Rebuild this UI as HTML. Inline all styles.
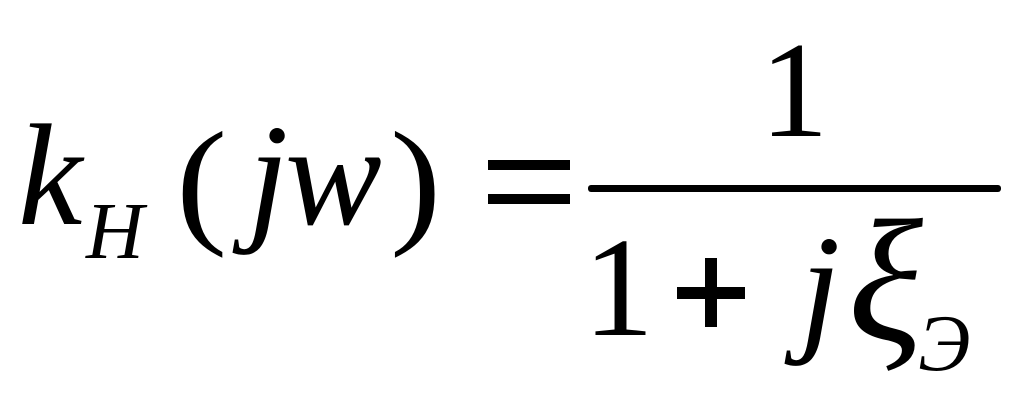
<!DOCTYPE html>
<html><head><meta charset="utf-8"><style>
html,body{margin:0;padding:0;background:#fff;width:1024px;height:400px;overflow:hidden}
text{font-family:"Liberation Serif",serif;fill:#000}
.i{font-style:italic}
</style></head><body>
<svg width="1024" height="400" xmlns="http://www.w3.org/2000/svg">
<text class="i" x="18" y="224" font-size="145">k</text>
<text class="i" x="86" y="258" font-size="80">H</text>
<text x="176" y="228" font-size="140" transform="translate(176,228) scale(1.1,1) translate(-176,-228)">(</text>
<text class="i" x="248" y="224" font-size="145">j</text>
<text class="i" x="285" y="224" font-size="145">w</text>
<text x="390" y="228" font-size="140" transform="translate(390,228) scale(1.1,1) translate(-390,-228)">)</text>
<rect x="488" y="160" width="82" height="10"/>
<rect x="488" y="194" width="82" height="10"/>
<text x="760" y="136" font-size="137">1</text>
<rect x="588" y="185" width="413" height="7" rx="3"/>
<text x="583" y="335" font-size="142">1</text>
<rect x="677" y="287" width="68" height="12"/>
<rect x="705" y="258" width="12" height="69"/>
<text class="i" x="800" y="335" font-size="145">j</text>
<text class="i" x="848" y="340" font-size="175">ξ</text>
<text class="i" x="918" y="370" font-size="80">Э</text>
</svg>
</body></html>
